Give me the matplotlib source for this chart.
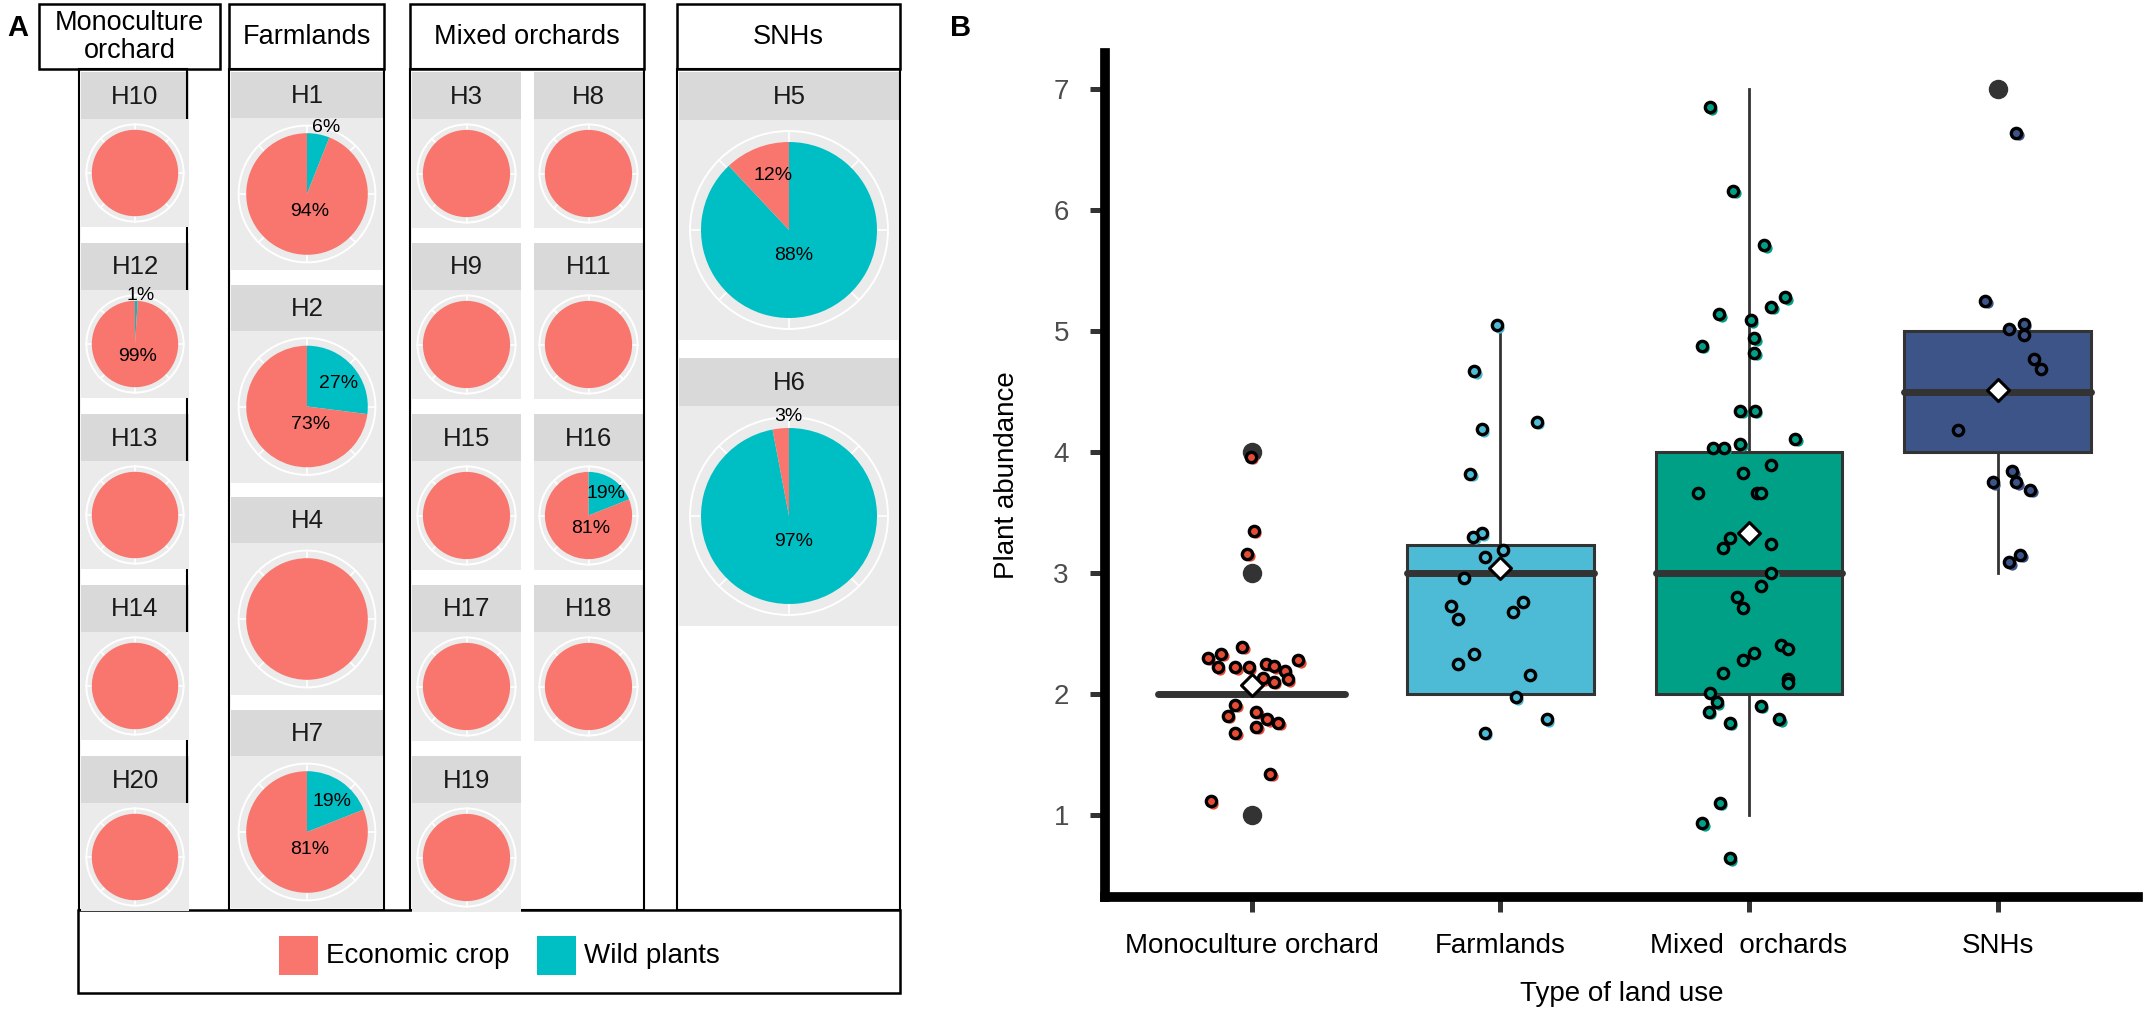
import numpy as np
import matplotlib.pyplot as plt
from matplotlib.patches import Rectangle, Circle
from matplotlib.transforms import offset_copy

plt.rcParams['font.family'] = ['Liberation Sans', 'DejaVu Sans']

# ---- A: share of wild plants (%) per site, grouped by land use
mono_sites = ["H10", "H12", "H13", "H14", "H20"]
mono_wild = [0, 1, 0, 0, 0]
farm_sites = ["H1", "H2", "H4", "H7"]
farm_wild = [6, 27, 0, 19]
mixed_sites = ["H3", "H8", "H9", "H11", "H15", "H16", "H17", "H18", "H19"]
mixed_wild = [0, 0, 0, 0, 0, 19, 0, 0, 0]
snh_sites = ["H5", "H6"]
snh_wild = [88, 97]
legend_names = ["Economic crop", "Wild plants"]

# ---- B: plant abundance per land use (jittered points)
land_use = ["Monoculture orchard", "Farmlands", "Mixed  orchards", "SNHs"]
mono_vals = [3.96, 3.35, 3.16, 2.39, 2.33, 2.30, 2.28, 2.25, 2.23, 2.22, 2.22, 2.22, 2.19,
             2.13, 2.12, 2.10, 1.91, 1.85, 1.82, 1.79, 1.76, 1.73, 1.68, 1.34, 1.11]
mono_jit = [-0.003, 0.008, -0.017, -0.037, -0.122, -0.176, 0.187, 0.059, 0.088, -0.136, -0.066,
            -0.011, 0.133, 0.045, 0.146, 0.088, -0.066, 0.019, -0.096, 0.062, 0.106, 0.019,
            -0.066, 0.074, -0.165]
farm_vals = [5.05, 4.67, 4.25, 4.19, 3.82, 3.33, 3.30, 3.19, 3.13, 2.96, 2.76, 2.73, 2.68,
             2.62, 2.33, 2.25, 2.16, 1.97, 1.79, 1.68]
farm_jit = [-0.015, -0.104, 0.146, -0.075, -0.120, -0.075, -0.108, 0.009, -0.063, -0.148,
            0.090, -0.200, 0.050, -0.172, -0.104, -0.172, 0.118, 0.062, 0.187, -0.063]
mixed_vals = [6.85, 6.16, 5.71, 5.28, 5.20, 5.14, 5.09, 4.94, 4.82, 4.88, 4.34, 4.34, 4.11,
              4.03, 4.03, 4.07, 3.89, 3.83, 3.66, 3.66, 3.66, 3.29, 3.21, 3.24, 3.00, 2.89,
              2.80, 2.71, 2.40, 2.37, 2.34, 2.28, 2.17, 2.12, 2.09, 2.01, 1.93, 1.85, 1.76,
              1.90, 1.79, 1.10, 0.93, 0.64]
mixed_jit = [-0.158, -0.063, 0.062, 0.146, 0.090, -0.119, 0.008, 0.021, 0.021, -0.189, -0.035,
             0.023, 0.187, -0.146, -0.101, -0.035, 0.090, -0.022, -0.203, 0.033, 0.047, -0.078,
             -0.105, 0.090, 0.090, 0.047, -0.049, -0.022, 0.131, 0.158, 0.021, -0.022, -0.105,
             0.158, 0.158, -0.158, -0.129, -0.161, -0.078, 0.047, 0.123, -0.118, -0.187, -0.078]
snh_vals = [6.64, 5.25, 5.06, 5.02, 4.97, 4.77, 4.69, 4.18, 3.84, 3.75, 3.75, 3.69, 3.15, 3.09]
snh_jit = [0.075, -0.050, 0.105, 0.048, 0.105, 0.146, 0.173, -0.161, 0.060, -0.020, 0.075,
           0.132, 0.092, 0.048]

box_q1 = [2, 2, 2, 4]
box_med = [2, 3, 3, 4.5]
box_q3 = [2, 3.23, 4, 5]
box_lo = [2, 2, 1, 3]
box_hi = [2, 5, 7, 5]
box_out = [[1, 3, 4], [], [], [7]]
group_means = [2.07, 3.04, 3.33, 4.51]

RED, TEAL = "#F8766D", "#00BFC4"
npg = ["#E64B35", "#4DBBD5", "#00A087", "#3C5488"]

W, H = 2147, 1025
fig = plt.figure(figsize=(W / 100, H / 100), dpi=100)


def px_axes(x0, y0, x1, y1):
    # pixel box (top-left origin) -> figure fraction
    return fig.add_axes([x0 / W, 1 - y1 / H, (x1 - x0) / W, (y1 - y0) / H])


over = px_axes(0, 0, W, H)
over.set_xlim(0, W)
over.set_ylim(H, 0)
over.axis("off")


def facet(name, wild, x0, x1, top, strip_h):
    size = x1 - x0
    over.add_patch(Rectangle((x0, top), size, strip_h, facecolor="#D9D9D9", edgecolor="none"))
    over.text((x0 + x1) / 2, top + strip_h / 2 + 1, name, ha="center", va="center",
              fontsize=18.5, color="#1A1A1A")
    ax = px_axes(x0, top + strip_h, x1, top + strip_h + size)
    ax.pie([wild, 100 - wild], colors=[TEAL, RED], startangle=90, counterclock=False,
           radius=1, wedgeprops=dict(linewidth=0))
    ax.set_frame_on(True)
    ax.set_facecolor("#EBEBEB")
    for s in ax.spines.values():
        s.set_visible(False)
    ax.set_aspect("equal", adjustable="datalim")
    ax.set_xlim(-1.25, 1.25)
    ax.set_ylim(-1.25, 1.25)
    ax.add_patch(Circle((0, 0), 1.125, fill=False, edgecolor="white", lw=1.4, zorder=0.5))
    for a in np.deg2rad(np.arange(0, 360, 45)):
        ax.plot([np.sin(a), 1.125 * np.sin(a)], [np.cos(a), 1.125 * np.cos(a)],
                color="white", lw=1.2, zorder=0.5)
    if 0 < wild < 100:
        econ = 100 - wild
        mids = {"w": 3.6 * wild / 2, "e": 3.6 * (wild + econ / 2)}
        small, big = ("w", "e") if wild < econ else ("e", "w")
        pct = {"w": wild, "e": econ}
        r_small = 1.13 if pct[small] < 10 else 0.65
        for key, ang, r in [(small, mids[small] + 5, r_small), (big, 170, 0.3)]:
            t = np.deg2rad(ang)
            ax.text(r * np.sin(t), r * np.cos(t), f"{pct[key]}%", ha="center", va="center",
                    fontsize=14, color="black")


# headers and column frames
headers = [(39, 220, "Monoculture\norchard"), (229, 384, "Farmlands"),
           (410, 644, "Mixed orchards"), (677, 900, "SNHs")]
for x0, x1, name in headers:
    over.add_patch(Rectangle((x0, 4), x1 - x0, 65, facecolor="white", edgecolor="black", lw=1.8))
    over.text((x0 + x1) / 2, 37, name, ha="center", va="center", fontsize=19.5, linespacing=1.1)
for x0, x1 in [(79, 187), (229, 384), (410, 644), (677, 900)]:
    over.add_patch(Rectangle((x0, 69), x1 - x0, 841, fill=False, edgecolor="black", lw=1.5, zorder=5))

row_tops = [72, 243, 414, 585, 756]
for name, w, top in zip(mono_sites, mono_wild, row_tops):
    facet(name, w, 81, 189, top, 47)
for name, w, top in zip(farm_sites, farm_wild, [72, 284.5, 497, 710]):
    facet(name, w, 231, 383, top, 46)
mixed_cols = [(412, 521), (534, 643)]
for k, (name, w) in enumerate(zip(mixed_sites, mixed_wild)):
    x0, x1 = mixed_cols[k % 2]
    facet(name, w, x0, x1, row_tops[k // 2], 47)
for name, w, top in zip(snh_sites, snh_wild, [72, 358]):
    facet(name, w, 679, 899, top, 48)

# legend of panel A
over.add_patch(Rectangle((78, 910), 822, 83, facecolor="white", edgecolor="black", lw=1.8, zorder=5))
for xk, col, lab in [(279, RED, legend_names[0]), (537, TEAL, legend_names[1])]:
    over.add_patch(Rectangle((xk, 936), 39, 39, facecolor=col, edgecolor="none", zorder=6))
    over.text(xk + 47, 956, lab, ha="left", va="center", fontsize=20, zorder=6)

over.text(18, 28, "A", ha="center", va="center", fontsize=21, fontweight="bold")
over.text(961, 28, "B", ha="center", va="center", fontsize=21, fontweight="bold")

# ---- panel B
axb = px_axes(1105, 53, 2138, 897)
stats = [dict(med=box_med[i], q1=box_q1[i], q3=box_q3[i], whislo=box_lo[i],
              whishi=box_hi[i], fliers=box_out[i]) for i in range(4)]
bp = axb.bxp(stats, positions=range(4), widths=0.75, patch_artist=True, showcaps=False,
             boxprops=dict(edgecolor="#333333", linewidth=2.2),
             whiskerprops=dict(color="#333333", linewidth=2.0),
             medianprops=dict(color="#333333", linewidth=5, solid_capstyle="round"),
             flierprops=dict(marker="o", markerfacecolor="#333333", markeredgecolor="#333333",
                             markersize=13))
for patch, c in zip(bp["boxes"], npg):
    patch.set_facecolor(c)

shadow = offset_copy(axb.transData, fig=fig, x=1.8, y=-1.8, units="points")
groups = [(mono_vals, mono_jit), (farm_vals, farm_jit), (mixed_vals, mixed_jit), (snh_vals, snh_jit)]
for i, (vals, jit) in enumerate(groups):
    xs = i + np.array(jit)
    axb.scatter(xs, vals, s=55, color=npg[i], linewidths=0, transform=shadow, zorder=3)
    axb.scatter(xs, vals, s=55, facecolor=npg[i], edgecolor="black", linewidths=2.4, zorder=3.1)

axb.scatter(range(4), group_means, marker="D", s=125, facecolor="white", edgecolor="black",
            linewidths=2.2, zorder=4)

axb.set_xlim(-0.59, 3.565)
axb.set_ylim(0.32, 7.3)
axb.set_xticks(range(4))
axb.set_xticklabels(land_use)
axb.set_yticks(range(1, 8))
for side in ["top", "right"]:
    axb.spines[side].set_visible(False)
for side in ["left", "bottom"]:
    axb.spines[side].set_linewidth(7)
    axb.spines[side].set_color("black")
axb.tick_params(axis="both", length=11, width=3.6, color="#333333", direction="out", pad=15,
                labelsize=20)
axb.tick_params(axis="y", labelcolor="#4D4D4D")
axb.tick_params(axis="x", labelcolor="black")
axb.set_ylabel("Plant abundance", fontsize=20, labelpad=24)
axb.set_xlabel("Type of land use", fontsize=20, labelpad=16)

fig.savefig("out.png", dpi=100)
